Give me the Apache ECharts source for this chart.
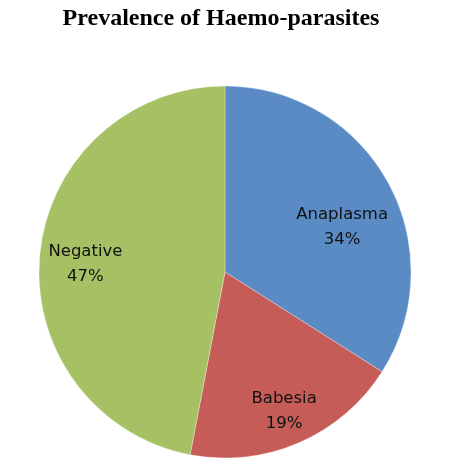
<!DOCTYPE html>
<html><head><meta charset="utf-8">
<script src="https://cdn.jsdelivr.net/npm/echarts@6/dist/echarts.min.js"></script>
<style>html,body{margin:0;padding:0;background:#fff}#c{width:451px;height:466px}</style>
</head><body><div id="c"></div>
<script>
var categories = ['Anaplasma', 'Babesia', 'Negative'];
var values = [34, 19, 47];
var colors = ['#5B8BC5', '#C65C58', '#A6C164'];
var labelOffsets = [[33, 1], [21, 51], [-44, 1]];

var chart = echarts.init(document.getElementById('c'), null, {renderer: 'canvas'});
chart.setOption({
  animation: false,
  backgroundColor: '#ffffff',
  title: {
    text: 'Prevalence of Haemo-parasites',
    left: 216, top: 2, textAlign: 'center',
    textStyle: {fontFamily: 'Liberation Serif', fontWeight: 'bold', fontSize: 24, color: '#000'}
  },
  series: [{
    type: 'pie',
    center: [225, 272],
    radius: [0, 186],
    startAngle: 90,
    clockwise: true,
    silent: true,
    label: {
      show: true, position: 'inside',
      formatter: function (p) { return p.name + '\n' + Math.round(p.percent) + '%'; },
      fontFamily: 'DejaVu Sans', fontSize: 16.5, lineHeight: 25, color: '#111'
    },
    labelLine: {show: false},
    itemStyle: {borderColor: '#ffffff', borderWidth: 0.3},
    data: categories.map(function (c, i) {
      return {name: c, value: values[i], itemStyle: {color: colors[i]}, label: {offset: labelOffsets[i]}};
    })
  }]
});
</script></body></html>
